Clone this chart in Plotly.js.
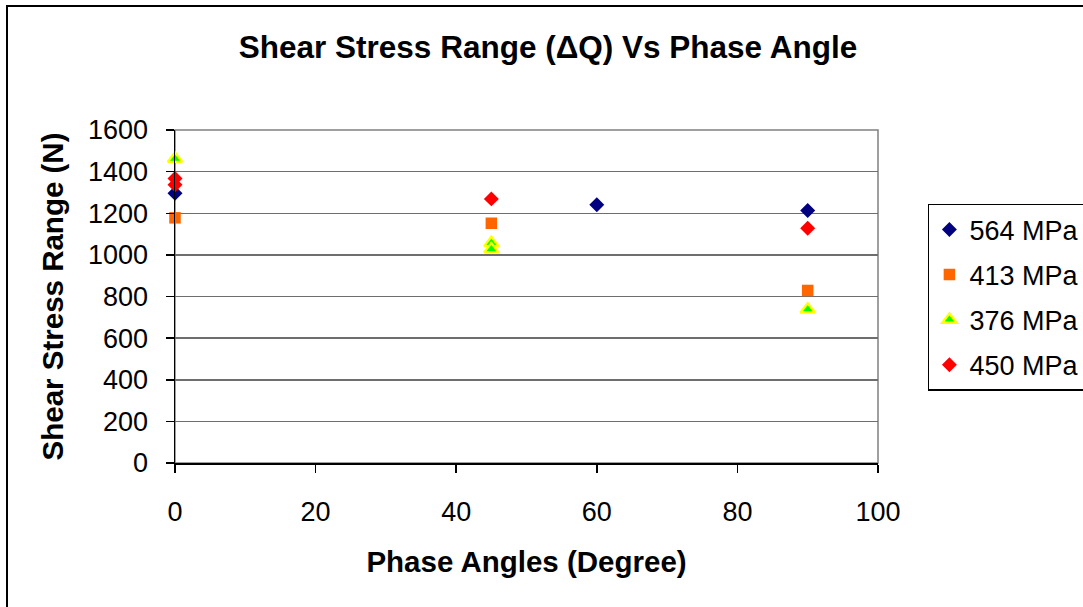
<!DOCTYPE html>
<html>
<head>
<meta charset="utf-8">
<script src="https://cdn.plot.ly/plotly-3.0.1.min.js"></script>
<style>
  html, body { margin: 0; padding: 0; background: #fff; overflow: hidden; }
  #chart { width: 1083px; height: 607px; position: relative; }
  #frame { position: absolute; left: 6px; top: 5px; width: 2000px; height: 2000px;
           border-left: 2px solid #000; border-top: 2px solid #000; pointer-events: none; box-sizing: border-box; }
</style>
</head>
<body>
<div id="chart"></div>
<div id="frame"></div>
<script>
// Series names
const seriesNames = ["564 MPa", "413 MPa", "376 MPa", "450 MPa"];

// Phase angle (degree) and shear stress range (N) for each series
const x564 = [0, 60, 90];
const y564 = [1296, 1241, 1213];

const x413 = [0, 45, 90];
const y413 = [1178, 1152, 829];

const x376 = [0, 45, 45, 90];
const y376 = [1462, 1057, 1027, 738];

const x450 = [0, 0, 45, 90];
const y450 = [1367, 1337, 1269, 1128];

const xTicks = [0, 20, 40, 60, 80, 100];
const yTicks = [0, 200, 400, 600, 800, 1000, 1200, 1400, 1600];

const FONT = "Liberation Sans, Arial, sans-serif";

const traces = [
  { x: x564, y: y564, name: seriesNames[0], legendgroup: "a", type: "scatter", mode: "markers", cliponaxis: false,
    marker: { symbol: "diamond", size: 11.5, color: "#000080", line: { width: 0 } } },
  { x: x413, y: y413, name: seriesNames[1], legendgroup: "b", type: "scatter", mode: "markers", cliponaxis: false,
    marker: { symbol: "square", size: 11.5, color: "#FF6600", line: { width: 0 } } },
  { x: x376, y: y376, name: seriesNames[2], legendgroup: "c", type: "scatter", mode: "markers", cliponaxis: false,
    marker: { symbol: "triangle-up", size: 12.5, color: "#00FF00", line: { width: 2.4, color: "#FFFF00" } } },
  { x: x450, y: y450, name: seriesNames[3], legendgroup: "d", type: "scatter", mode: "markers", cliponaxis: false,
    marker: { symbol: "diamond", size: 11.5, color: "#FF0000", line: { width: 0 } } }
];

const layout = {
  width: 1083, height: 607,
  paper_bgcolor: "#ffffff", plot_bgcolor: "#ffffff",
  margin: { l: 175, r: 205, t: 130, b: 144, autoexpand: false },
  font: { family: FONT, color: "#000", size: 27 },
  title: { text: "<b>Shear Stress Range (ΔQ) Vs Phase Angle</b>", font: { family: FONT, size: 31.5, color: "#000" },
           x: 0.506, xref: "container", xanchor: "center", y: 0.923, yref: "container", yanchor: "middle" },
  xaxis: {
    range: [0, 100], tickvals: xTicks, ticktext: xTicks.map(String),
    showgrid: false, zeroline: false, showline: true, linecolor: "#000", linewidth: 1.5,
    ticks: "outside", ticklen: 8, tickcolor: "#000", tickwidth: 1.5, ticklabelstandoff: 16,
    tickfont: { family: FONT, size: 27, color: "#000" },
    title: { text: "<b>Phase Angles (Degree)</b>", font: { family: FONT, size: 29.5, color: "#000" }, standoff: 25 },
    automargin: false
  },
  yaxis: {
    range: [0, 1600], tickvals: yTicks, ticktext: yTicks.map(String),
    showgrid: true, gridcolor: "#6e6e6e", gridwidth: 1.5, zeroline: false,
    showline: true, linecolor: "#000", linewidth: 1.5,
    ticks: "outside", ticklen: 8, tickcolor: "#000", tickwidth: 1.5, ticklabelstandoff: 12,
    tickfont: { family: FONT, size: 27, color: "#000" },
    title: { text: "<b>Shear Stress Range (N)</b>", font: { family: FONT, size: 29.5, color: "#000" }, standoff: 15 },
    automargin: false
  },
  shapes: [
    { type: "rect", xref: "paper", yref: "paper", x0: 0, x1: 1, y0: 0, y1: 1,
      line: { color: "#808080", width: 1.5 }, fillcolor: "rgba(0,0,0,0)", layer: "below" }
  ],
  showlegend: true,
  legend: {
    x: 1.071, y: 0.778, xanchor: "left", yanchor: "top",
    bordercolor: "#000", borderwidth: 1.5, bgcolor: "#fff",
    font: { family: FONT, size: 27, color: "#000" },
    tracegroupgap: 7, traceorder: "grouped"
  }
};

Plotly.newPlot("chart", traces, layout, { displayModeBar: false, staticPlot: true });
</script>
</body>
</html>
